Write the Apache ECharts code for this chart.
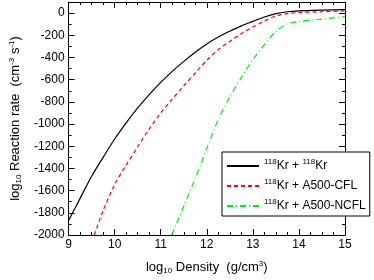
<!DOCTYPE html>
<html><head><meta charset="utf-8">
<script src="https://cdn.jsdelivr.net/npm/echarts@6/dist/echarts.min.js"></script>
<style>html,body{margin:0;padding:0;background:#fff}#c{width:374px;height:280px}</style>
</head><body><div id="c"></div>
<script>
var xTicks = [9, 10, 11, 12, 13, 14, 15];
var yTicks = [-2000, -1800, -1600, -1400, -1200, -1000, -800, -600, -400, -200, 0];

var krKrX = [9, 9.25, 9.5, 9.75, 10, 10.25, 10.5, 10.75, 11, 11.25, 11.5, 11.75, 12, 12.25, 12.5, 12.75, 13, 13.25, 13.5, 13.75, 14, 14.5, 15];
var krKrY = [-1870, -1670, -1470, -1300, -1135, -990, -855, -735, -625, -525, -435, -352, -278, -215, -163, -115, -75, -35, -5, 12, 20, 27, 32];

var cflX = [9.56, 9.75, 10, 10.25, 10.5, 10.75, 11, 11.25, 11.5, 11.75, 12, 12.25, 12.5, 12.75, 13, 13.25, 13.5, 13.75, 14, 14.5, 15];
var cflY = [-2000, -1780, -1545, -1370, -1205, -1045, -900, -775, -655, -540, -425, -330, -255, -185, -125, -72, -25, -5, 5, 12, 20];

var ncflX = [11.24, 11.5, 11.76, 12, 12.25, 12.5, 12.75, 13, 13.25, 13.5, 13.75, 14, 14.5, 15];
var ncflY = [-2000, -1740, -1480, -1220, -960, -755, -580, -420, -285, -165, -98, -76, -55, -32];

var names = ['{sup|118}Kr + {sup|118}Kr', '{sup|118}Kr + A500-CFL', '{sup|118}Kr + A500-NCFL'];

function pairs(xs, ys) { return xs.map(function (x, i) { return [x, ys[i]]; }); }

var FONT = 'Liberation Sans';
var chart = echarts.init(document.getElementById('c'));
var line = { show: true, onZero: false, lineStyle: { color: '#000', width: 1 } };
var tick = { show: true, inside: true, length: 6, lineStyle: { color: '#000' } };
var txt = { fontSize: 13, fontFamily: FONT, color: '#000' };
var sub = { fontSize: 8, fontFamily: FONT, color: '#000', padding: [7, 0, 0, 0] };
var sup = { fontSize: 8, fontFamily: FONT, color: '#000', padding: [0, 0, 7, 0] };
chart.setOption({
  animation: false,
  grid: { left: 58, right: 29, top: 2, bottom: 37 },
  legend: {
    orient: 'vertical', left: 222, top: 152,
    backgroundColor: '#fff', borderColor: '#000', borderWidth: 1, borderRadius: 0,
    padding: [6, 4, 4, 4], itemGap: 6, itemWidth: 32, itemHeight: 10,
    itemStyle: { opacity: 0, borderWidth: 0 },
    textStyle: {
      fontFamily: FONT, fontSize: 12, color: '#000',
      rich: { sup: { fontFamily: FONT, fontSize: 8, padding: [0, 0, 8, 0], color: '#000' } }
    },
    data: names
  },
  xAxis: [{
    type: 'value', min: 9, max: 15, interval: 1, position: 'bottom',
    axisLine: line, axisTick: tick, splitLine: { show: false },
    minorTick: { show: true, splitNumber: 4, length: 3, lineStyle: { color: '#000' } },
    name: '{t|log}{s|10}{t| Density  (g/cm}{p|3}{t|)}', nameLocation: 'middle', nameGap: 25,
    nameTextStyle: { rich: { t: txt, s: sub, p: sup } },
    axisLabel: { fontFamily: FONT, fontSize: 12, color: '#000', margin: 4 }
  }, {
    type: 'value', min: 9, max: 15, interval: 1, position: 'top',
    axisLine: line, axisTick: tick, splitLine: { show: false },
    minorTick: { show: true, splitNumber: 4, length: 3, lineStyle: { color: '#000' } },
    axisLabel: { show: false }
  }],
  yAxis: [{
    type: 'value', min: -2000, max: 100, interval: 200, position: 'left',
    axisLine: line, axisTick: tick, splitLine: { show: false },
    minorTick: { show: true, splitNumber: 2, length: 3, lineStyle: { color: '#000' } },
    name: '{t|log}{s|10}{t| Reaction rate  (cm}{p|-3}{t| s}{p|-1}{t|)}', nameLocation: 'middle', nameGap: 44, nameRotate: 90,
    nameTextStyle: { rich: { t: txt, s: sub, p: sup } },
    axisLabel: { fontFamily: FONT, fontSize: 12, color: '#000', margin: 4,
      formatter: function (v) { return yTicks.indexOf(v) >= 0 ? String(v) : ''; } }
  }, {
    type: 'value', min: -2000, max: 100, interval: 200, position: 'right',
    axisLine: line, axisTick: tick, splitLine: { show: false },
    minorTick: { show: true, splitNumber: 2, length: 3, lineStyle: { color: '#000' } },
    axisLabel: { show: false }
  }],
  series: [
    { name: names[0], type: 'line', showSymbol: false, symbol: 'none', smooth: 0.3, data: pairs(krKrX, krKrY),
      lineStyle: { color: '#000', width: 1.2 }, itemStyle: { color: '#000' } },
    { name: names[1], type: 'line', showSymbol: false, symbol: 'none', smooth: 0.3, data: pairs(cflX, cflY),
      lineStyle: { color: '#ff0000', width: 1.2, type: [4, 3] }, itemStyle: { color: '#ff0000' } },
    { name: names[2], type: 'line', showSymbol: false, symbol: 'none', smooth: 0.3, data: pairs(ncflX, ncflY),
      lineStyle: { color: '#00ee00', width: 1.2, type: [6, 3, 1, 3] }, itemStyle: { color: '#00ee00' } }
  ]
});
</script></body></html>
